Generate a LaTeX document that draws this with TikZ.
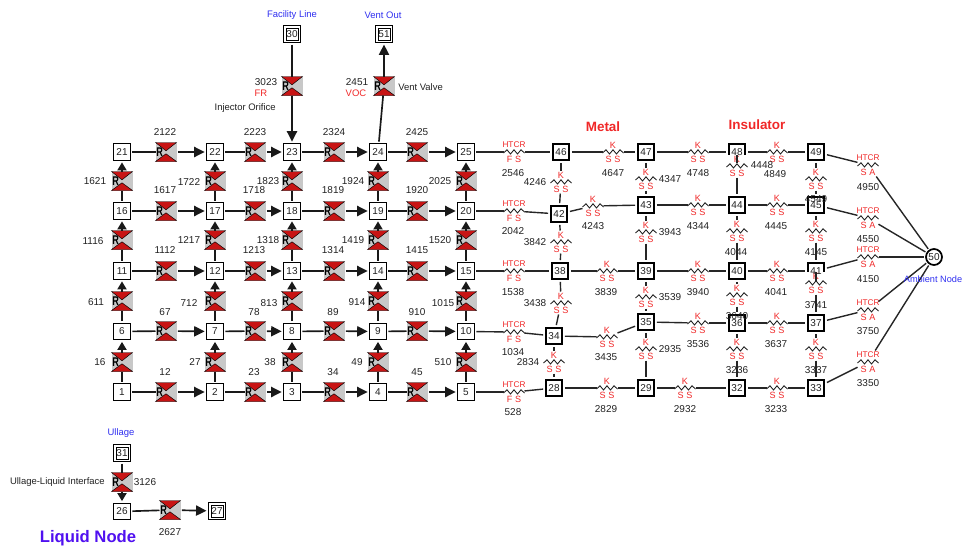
\documentclass[tikz,border=0pt]{standalone}
\usepackage{fontspec}
\setmainfont{Liberation Sans}
\usetikzlibrary{arrows.meta}
\definecolor{numc}{HTML}{222222}
\definecolor{redt}{HTML}{F02828}
\definecolor{bluet}{HTML}{3030F0}
\definecolor{iconred}{HTML}{C81414}
\definecolor{icongray}{HTML}{C8C8C8}
\tikzset{
  x=0.75pt,y=-0.75pt,
  numlab/.style={inner sep=0pt,font=\fontsize{7.5pt}{9pt}\selectfont,text=numc},
  wordlab/.style={inner sep=0pt,font=\fontsize{7.1pt}{9pt}\selectfont,text=numc},
  namelab/.style={wordlab,text=bluet},
  redlab/.style={wordlab,text=redt},
  headlab/.style={inner sep=0pt,font=\fontsize{10.1pt}{12pt}\selectfont\bfseries,text=redt},
  liqbox/.style={draw=black,fill=white,line width=.6pt,minimum size=12.4pt,inner sep=0pt,outer sep=1.6pt,font=\fontsize{7.5pt}{9pt}\selectfont,text=numc},
  innerbox/.style={draw=black,line width=.6pt},
  thbox/.style={draw=black,fill=white,line width=2pt,minimum size=12pt,inner sep=0pt,outer sep=2.2pt},
  thtext/.style={inner sep=0pt,font=\fontsize{7.5pt}{9pt}\selectfont,text=numc},
  ambcirc/.style={circle,draw=black,fill=white,line width=1.3pt,minimum size=12pt,inner sep=0pt,outer sep=1.5pt,font=\fontsize{7.5pt}{9pt}\selectfont,text=numc},
  ricon/.style={fill=icongray,minimum width=15.75pt,minimum height=14.25pt,inner sep=0pt,outer sep=0pt},
  rglyph/.style={inner sep=0pt,font=\fontsize{9.5pt}{10pt}\selectfont\bfseries,text=black},
  tritop/.style={fill=iconred,draw=black,line width=.35pt},
  zbox/.style={fill=white,minimum width=15.75pt,minimum height=17.25pt,inner sep=0pt,outer sep=0pt},
  zline/.style={draw=numc,line width=.65pt},
  ztext/.style={inner sep=0pt,font=\fontsize{6.8pt}{7pt}\selectfont,text=redt},
  htext/.style={ztext,font=\fontsize{6.2pt}{7pt}\selectfont},
  wire/.style={draw=black!90,line width=1.25pt},
  thinwire/.style={draw=black!85,line width=1.05pt},
  arrowed/.style={wire,-{Triangle[length=7.8pt,width=7.6pt]}},
  arrowedv/.style={wire,-{Triangle[length=6pt,width=6.8pt]}},
}
\newcommand{\rico}[3]{%
  \node[ricon] (r#1) at (#2,#3) {};
  \begin{scope}[shift={(r#1)}]
    \path[tritop] (-10.5,-9.5) -- (10.5,-9.5) -- (0,-1.2) -- cycle;
    \path[tritop] (-10.5,9.5) -- (10.5,9.5) -- (0,1.8) -- cycle;
    \node[rglyph] (g#1) at (-6.3,0) {\scalebox{.72}[1]{R}};
  \end{scope}}
\newcommand{\zig}[6]{%
  \node[zbox] (z#1) at (#2,#3) {};
  \begin{scope}[shift={(z#1)}]
    \path[zline] (-10.5,1) -- (-7,-2.2) -- (-3.5,2) -- (0,-2.2) -- (3.5,2) -- (7,-2.2) -- (10.5,1);
    \node[#6] (za#1) at (0,-7) {#4};
    \node[ztext] (zb#1) at (0,7.5) {#5};
  \end{scope}}
\newcommand{\dbl}[3]{%
  \node[liqbox,minimum size=12.6pt] (n#1) at (#2,#3) {#1};
  \begin{scope}[shift={(n#1)}]
    \path[innerbox] (-6,-6) rectangle (6,6);
  \end{scope}}
\begin{document}
\begin{tikzpicture}
\useasboundingbox (0,0) rectangle (963,550);
% liquid nodes
\foreach \n/\x/\y in {1/122/392,2/215/392,3/292/392,4/378/392,5/466/392,
  6/122/331.5,7/215/331.5,8/292/331.5,9/378/331.5,10/466/331.5,
  11/122/271,12/215/271,13/292/271,14/378/271,15/466/271,
  16/122/211,17/215/211,18/292/211,19/378/211,20/466/211,
  21/122/152,22/215/152,23/292/152,24/378/152,25/466/152,26/122/511.5}
  \node[liqbox] (n\n) at (\x,\y) {\n};
\foreach \n/\x/\y in {30/292/34,51/384/34,31/122/453,27/217/511}
  \dbl{\n}{\x}{\y};
% thermal nodes
\foreach \n/\x/\y in {46/561/152,47/646/152,48/737/152,49/816/152,
  42/559/214,43/646/205,44/737/205,45/816/205,
  38/560/271,39/646/271,40/737/271,41/816/271,
  34/554/336,35/646/322,36/737/323,37/816/323,
  28/554/388,29/646/388,32/737/388,33/816/388}
  \node[thbox] (n\n) at (\x,\y) {};
\node[ambcirc] (n50) at (934,257) {50};
% horizontal fluid resistors
\foreach \a/\b/\x/\y in {1/2/166/392,2/3/255/392,3/4/334/392,4/5/417/392,
  6/7/166/331,7/8/255/331,8/9/334/331,9/10/417/331,
  11/12/166/271,12/13/255/271,13/14/334/271,14/15/417/271,
  16/17/166/211,17/18/255/211,18/19/334/211,19/20/417/211,
  21/22/166/152,22/23/255/152,23/24/334/152,24/25/417/152,26/27/170/510}{
  \rico{\a-\b}{\x}{\y}
  \draw[wire] (n\a) -- (r\a-\b);
  \draw[arrowed,shorten <=1pt] (r\a-\b) -- (n\b);
}
% vertical fluid resistors
\foreach \a/\b/\x/\y in {1/6/122/362,2/7/215/362,3/8/292/362,4/9/378/362,5/10/466/362,
  6/11/122/301,7/12/215/301,8/13/292/301,9/14/378/301,10/15/466/301,
  11/16/122/240,12/17/215/240,13/18/292/240,14/19/378/240,15/20/466/240,
  16/21/122/181,17/22/215/181,18/23/292/181,19/24/378/181,20/25/466/181}{
  \rico{\a-\b}{\x}{\y}
  \draw[wire] (n\a) -- (r\a-\b);
  \draw[arrowedv] (r\a-\b) -- (n\b);
}
% special resistors
\rico{30-23}{292}{86}
\draw[wire] (n30) -- (r30-23);
\draw[arrowed] (r30-23) -- (n23);
\rico{24-51}{384}{86}
\draw[wire] (n24) -- (r24-51);
\draw[arrowed] (r24-51) -- (n51);
\rico{31-26}{122}{482}
\draw[wire] (n31) -- (r31-26);
\draw[arrowedv] (r31-26) -- (n26);
% thermal conductors: HTCR FS
\foreach \t/\y in {25-46/152,20-42/211,15-38/271,10-34/332,5-28/392}
  \zig{\t}{514}{\y}{HTCR}{F S}{htext};
% HTCR SA
\foreach \t/\y in {49-50/165,45-50/218,41-50/257,37-50/310,33-50/362}
  \zig{\t}{868}{\y}{HTCR}{S A}{htext};
% K horizontal / vertical
\foreach \t/\x/\y in {46-47/613/152,47-48/698/152,42-43/593/206,43-44/698/205,
  38-39/607/271,39-40/698/271,34-35/607/337,35-36/698/323,28-29/607/388,29-32/685/388,
  48-49/777/152,44-45/777/205,40-41/777/271,36-37/777/323,32-33/777/388,
  46-42/561/182,42-38/561/242,38-34/561/303,34-28/554/362,
  47-43/646/179,43-39/646/232,39-35/646/297,35-29/646/349,
  48-44/737/166,44-40/737/231,40-36/737/295,36-32/737/349,
  49-45/816/179,45-41/816/231,41-37/816/283,37-33/816/349}
  \zig{\t}{\x}{\y}{K}{S S}{ztext};
% thermal connectors
\foreach \a/\b in {46/47,47/48,42/43,43/44,38/39,39/40,34/35,35/36,28/29,29/32,
  48/49,44/45,40/41,36/37,32/33,46/42,42/38,38/34,34/28,47/43,43/39,39/35,35/29,
  48/44,44/40,40/36,36/32,49/45,45/41,41/37,37/33}{
  \draw[thinwire] (n\a) -- (z\a-\b);
  \draw[thinwire] (z\a-\b) -- (n\b);
}
\foreach \a/\b in {25/46,20/42,15/38,10/34,5/28}{
  \draw[thinwire] (n\a) -- (z\a-\b);
  \draw[thinwire] (z\a-\b) -- (n\b);
}
\foreach \a in {49,45,41,37,33}{
  \draw[thinwire] (n\a) -- (z\a-50);
  \draw[thinwire] (z\a-50) -- (n50);
}
% thermal node numbers
\foreach \n in {46,47,48,49,42,43,44,45,38,39,40,41,34,35,36,37,28,29,32,33}
  \node[thtext] (nt\n) at (n\n) {\n};
% number labels
\foreach \t/\x/\y in {2122/165/132,2223/255/132,2324/334/132,2425/417/132,
  1617/165/190,1718/254/190,1819/333/190,1920/417/190,
  1112/165/250,1213/254/250,1314/333/250,1415/417/250,
  67/165/312,78/254/312,89/333/312,910/417/312,
  12/165/372,23/254/372,34/333/372,45/417/372,
  1621/95/181,1116/93/241,611/96/302,16/100/362,
  1722/189/182,1217/189/240,712/189/303,27/195/362,
  1823/268/181,1318/268/240,813/269/303,38/270/362,
  1924/353/181,1419/353/240,914/357/302,49/357/362,
  2025/440/181,1520/440/240,1015/443/303,510/443/362,
  3023/266/82,2451/357/82,3126/145/482,2627/170/532,
  2546/513/173,2042/513/231,1538/513/292,1034/513/352,528/513/412,
  4950/868/187,4550/868/239,4150/868/279,3750/868/331,3350/868/383,
  4647/613/173,4748/698/173,4243/593/226,4344/698/226,3839/606/292,3940/698/292,
  3435/606/357,3536/698/344,2829/606/409,2932/685/409,
  4849/775/174,4445/776/226,4041/776/292,3637/776/344,3233/776/409,
  4246/535/182,3842/535/242,3438/535/303,2834/528/362,
  4347/670/179,3943/670/232,3539/670/297,2935/670/349,
  4448/762/165,4044/736/252,3640/737/316,3236/737/370,
  4549/816/199,4145/816/252,3741/816/305,3337/816/370}
  \node[numlab] (t\t) at (\x,\y) {\t};
% names
\node[namelab] (lab30) at (292,15) {Facility Line};
\node[namelab] (lab51) at (383,15) {Vent Out};
\node[namelab] (lab31) at (121,433) {Ullage};
\node[namelab,font=\fontsize{6.9pt}{9pt}\selectfont] (lab50) at (933,279) {Ambient Node};
\node[redlab] (labfr) at (261,93) {FR};
\node[redlab] (labvoc) at (356,93) {VOC};
\node[wordlab,anchor=east] (labinj) at (276,108) {Injector Orifice};
\node[wordlab,anchor=west] (labvv) at (398,87) {Vent Valve};
\node[wordlab,anchor=east] (labull) at (105,482) {Ullage-Liquid Interface};
\node[headlab] (labmetal) at (603,127) {Metal};
\node[headlab] (labins) at (757,125) {Insulator};
\node[inner sep=0pt,font=\fontsize{12.5pt}{14pt}\selectfont\bfseries,text={rgb,255:red,80;green,16;blue,240}] (labliq) at (88,538) {Liquid Node};
\end{tikzpicture}
\end{document}
